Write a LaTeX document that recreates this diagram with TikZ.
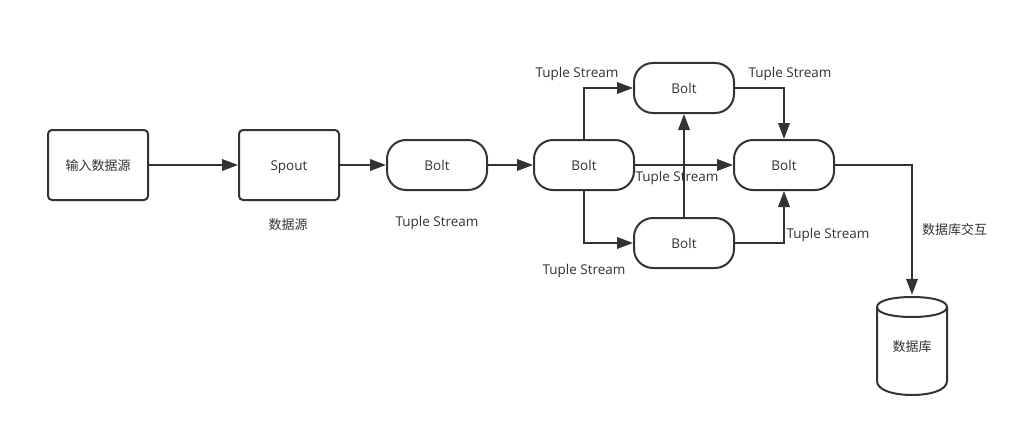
\documentclass[tikz,border=0pt]{standalone}
\usepackage{fontspec}
\setmainfont{Open Sans}
\newfontfamily\cjk{Noto Sans CJK SC}
\usetikzlibrary{arrows.meta}
\definecolor{ink}{HTML}{333333}
\tikzset{
  every node/.style={text=ink,font=\fontsize{13.5}{16}\selectfont},
  shapebox/.style={draw=ink,line width=2pt,fill=white,minimum width=100pt,inner sep=0pt,text height=11.5pt,text depth=0pt},
  srcbox/.style={shapebox,minimum height=70pt,rounded corners=4pt},
  boltbox/.style={shapebox,minimum height=50pt,rounded corners=19pt},
  flow/.style={draw=ink,line width=2pt,-{Triangle[length=16pt,width=11.5pt]}},
  lbl/.style={inner sep=0pt,text height=11.5pt,text depth=0pt},
  cjklbl/.style={lbl,font=\cjk\fontsize{13}{16}\selectfont}
}
\begin{document}
\begin{tikzpicture}[x=1pt,y=-1pt]
\useasboundingbox[fill=white] (0,0) rectangle (1020,428);
\node[srcbox,font=\cjk\fontsize{13}{16}\selectfont] (input) at (98,165) {输入数据源};
\node[srcbox] (spout) at (289,165) {Spout};
\node[boltbox] (b1) at (437,165) {Bolt};
\node[boltbox] (b2) at (584,165) {Bolt};
\node[boltbox] (top) at (684,88) {Bolt};
\node[boltbox] (bot) at (684,243) {Bolt};
\node[boltbox] (b3) at (784,165) {Bolt};
% database
\draw[draw=ink,line width=2pt,fill=white] (877,307) .. controls (877,300.5) and (893,297) .. (912,297) .. controls (931,297) and (947,300.5) .. (947,307) -- (947,381) .. controls (947,390) and (931,395) .. (912,395) .. controls (893,395) and (877,390) .. (877,381) -- cycle;
\draw[draw=ink,line width=2pt] (877,307) .. controls (877,313.5) and (893,317) .. (912,317) .. controls (931,317) and (947,313.5) .. (947,307);
\node[cjklbl,minimum width=70pt,minimum height=102pt] (db) at (912,346) {数据库};
% connectors
\draw[flow] (input.east) -- (spout.west);
\draw[flow] (spout.east) -- (b1.west);
\draw[flow] (b1.east) -- (b2.west);
\draw[flow] (b2.north) |- (top.west);
\draw[flow] (b2.south) |- (bot.west);
\draw[flow] (b2.east) -- (b3.west);
\draw[flow] (bot.north) -- (top.south);
\draw[flow] (top.east) -| (b3.north);
\draw[flow] (bot.east) -| (b3.south);
\draw[flow] (b3.east) -| (db.north);
% labels
\node[cjklbl] (l1) at (288,224) {数据源};
\node[lbl] (l2) at (437,221) {Tuple Stream};
\node[lbl] (l3) at (577,72) {Tuple Stream};
\node[lbl] (l4) at (790,72) {Tuple Stream};
\node[lbl] (l5) at (677,176) {Tuple Stream};
\node[lbl] (l6) at (828,233) {Tuple Stream};
\node[lbl] (l7) at (584,269) {Tuple Stream};
\node[cjklbl] (l8) at (954.5,229) {数据库交互};
\end{tikzpicture}
\end{document}
